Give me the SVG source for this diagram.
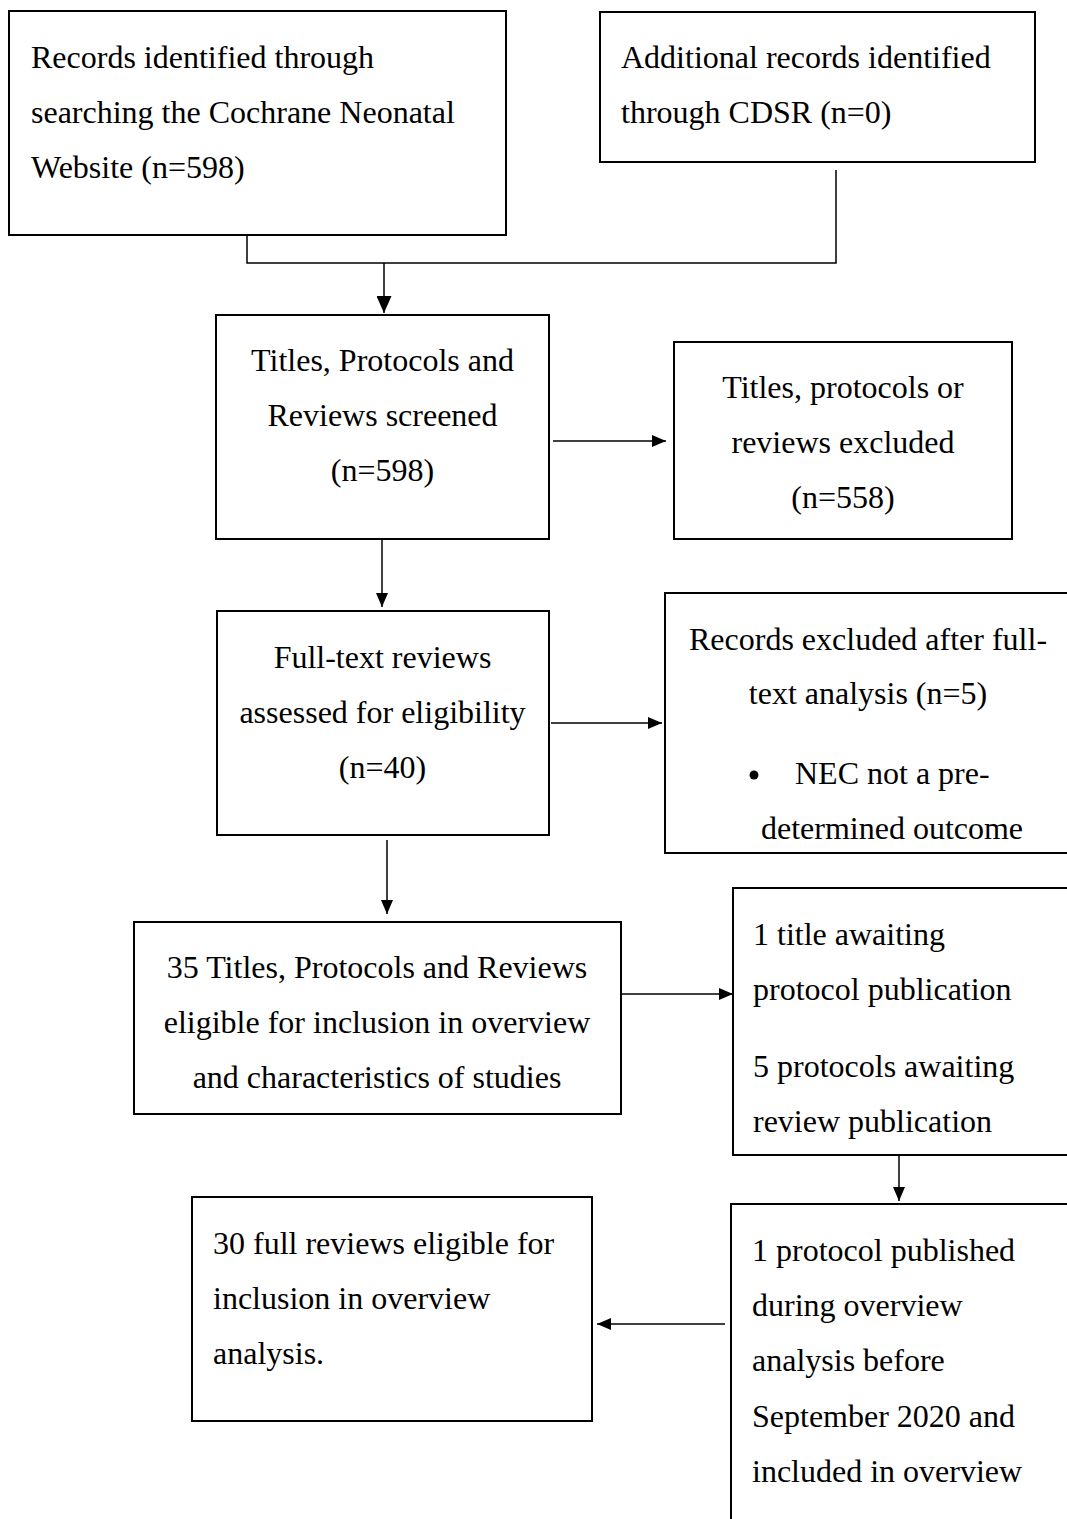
<svg xmlns="http://www.w3.org/2000/svg" width="1067" height="1519" viewBox="0 0 1067 1519">
<style>
  .box { fill: #fff; stroke: #000; stroke-width: 2; }
  .con { fill: none; stroke: #000; stroke-width: 1.5; }
  text { font-family: "Liberation Serif", "Times New Roman", serif; font-size: 32px; fill: #000; }
  .c { text-anchor: middle; }
</style>
<defs>
  <marker id="ah" viewBox="0 0 14 12" refX="14" refY="6" markerWidth="14" markerHeight="12" markerUnits="userSpaceOnUse" orient="auto">
    <path d="M0,0 L14,6 L0,12 Z" fill="#000"/>
  </marker>
  <marker id="ahb" viewBox="0 0 17 15" refX="17" refY="7.5" markerWidth="17" markerHeight="15" markerUnits="userSpaceOnUse" orient="auto">
    <path d="M0,0 L17,7.5 L0,15 Z" fill="#000"/>
  </marker>
</defs>
<rect width="1067" height="1519" fill="#fff"/>

<g id="connectors">
  <path class="con" d="M247,235 V263 H836 V170"/>
  <path class="con" d="M384,263 V313" marker-end="url(#ahb)"/>
  <path class="con" d="M553,441 H666" marker-end="url(#ah)"/>
  <path class="con" d="M382,539 V607" marker-end="url(#ah)"/>
  <path class="con" d="M551,723 H662" marker-end="url(#ah)"/>
  <path class="con" d="M387,840 V914" marker-end="url(#ah)"/>
  <path class="con" d="M621,994 H733" marker-end="url(#ah)"/>
  <path class="con" d="M899,1155 V1201" marker-end="url(#ah)"/>
  <path class="con" d="M725,1324 H597" marker-end="url(#ah)"/>
</g>

<g id="n1">
  <rect class="box" x="9" y="11" width="497" height="224"/>
  <text x="31" y="68">Records identified through</text>
  <text x="31" y="123">searching the Cochrane Neonatal</text>
  <text x="31" y="178">Website (n=598)</text>
</g>
<g id="n2">
  <rect class="box" x="600" y="12" width="435" height="150"/>
  <text x="621" y="68">Additional records identified</text>
  <text x="621" y="123">through CDSR (n=0)</text>
</g>
<g id="n3">
  <rect class="box" x="216" y="315" width="333" height="224"/>
  <text class="c" x="382.5" y="371">Titles, Protocols and</text>
  <text class="c" x="382.5" y="426">Reviews screened</text>
  <text class="c" x="382.5" y="481">(n=598)</text>
</g>
<g id="n4">
  <rect class="box" x="674" y="342" width="338" height="197"/>
  <text class="c" x="843" y="398">Titles, protocols or</text>
  <text class="c" x="843" y="453">reviews excluded</text>
  <text class="c" x="843" y="508">(n=558)</text>
</g>
<g id="n5">
  <rect class="box" x="217" y="611" width="332" height="224"/>
  <text class="c" x="382.5" y="668">Full-text reviews</text>
  <text class="c" x="382.5" y="723">assessed for eligibility</text>
  <text class="c" x="382.5" y="778">(n=40)</text>
</g>
<g id="n6">
  <rect class="box" x="665" y="593" width="420" height="260"/>
  <text class="c" x="868" y="650">Records excluded after full-</text>
  <text class="c" x="868" y="704">text analysis (n=5)</text>
  <circle cx="754" cy="775" r="4.5" fill="#000"/>
  <text x="795" y="784">NEC not a pre-</text>
  <text class="c" x="892" y="839">determined outcome</text>
</g>
<g id="n7">
  <rect class="box" x="134" y="922" width="487" height="192"/>
  <text class="c" x="377" y="978">35 Titles, Protocols and Reviews</text>
  <text class="c" x="377" y="1033">eligible for inclusion in overview</text>
  <text class="c" x="377" y="1088">and characteristics of studies</text>
</g>
<g id="n8">
  <rect class="box" x="733" y="888" width="350" height="267"/>
  <text x="753" y="945">1 title awaiting</text>
  <text x="753" y="1000">protocol publication</text>
  <text x="753" y="1077">5 protocols awaiting</text>
  <text x="753" y="1132">review publication</text>
</g>
<g id="n9">
  <rect class="box" x="731" y="1204" width="350" height="330"/>
  <text x="752" y="1261">1 protocol published</text>
  <text x="752" y="1316">during overview</text>
  <text x="752" y="1371">analysis before</text>
  <text x="752" y="1427">September 2020 and</text>
  <text x="752" y="1482">included in overview</text>
</g>
<g id="n10">
  <rect class="box" x="192" y="1197" width="400" height="224"/>
  <text x="213" y="1254">30 full reviews eligible for</text>
  <text x="213" y="1309">inclusion in overview</text>
  <text x="213" y="1364">analysis.</text>
</g>
</svg>
